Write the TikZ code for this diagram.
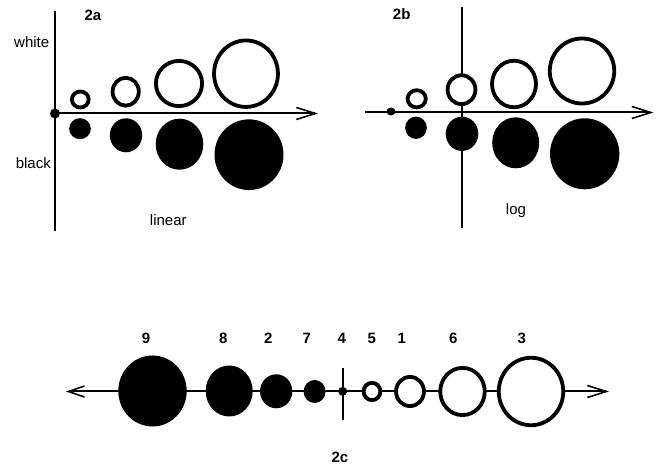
\documentclass[tikz,border=0pt]{standalone}
\usepackage{fontspec}
\setmainfont{Liberation Sans}
\usetikzlibrary{arrows.meta,shapes.geometric}
\tikzset{
  ax/.style={line width=2pt},
  arr/.style={-{Straight Barb[length=19pt,width=12pt,line width=1.6pt]}},
  arrl/.style={{Straight Barb[length=16pt,width=11pt,line width=1.6pt]}-{Straight Barb[length=19pt,width=12pt,line width=1.6pt]}},
  wc/.style={ellipse, draw, line width=3.8pt, fill=white, inner sep=0pt, outer sep=0pt},
  bc/.style={ellipse, fill=black, inner sep=0pt, outer sep=0pt},
  txt/.style={font=\fontsize{15}{18}\selectfont, inner sep=0pt, anchor=base},
  btxt/.style={font=\fontsize{15}{18}\selectfont\bfseries, inner sep=0pt, anchor=base},
}
\begin{document}
\begin{tikzpicture}[x=1pt,y=-1pt]
\useasboundingbox (0,0) rectangle (657,470);
% ---------- 2a ----------
\coordinate (aTop) at (55,11);
\coordinate (aBot) at (55,231);
\coordinate (aEnd) at (318,113.5);
\draw[ax] (aTop) -- (aBot);
\node[bc, minimum width=10pt, minimum height=10pt] (a0) at (55,113.5) {};
\draw[ax,arr] (a0.center) -- (aEnd);
\node[wc, minimum width=16.8pt, minimum height=16pt] (aw1) at (80.3,99.5) {};
\node[wc, minimum width=26.2pt, minimum height=27.9pt] (aw2) at (125.7,91.7) {};
\node[wc, minimum width=46.2pt, minimum height=45.2pt] (aw3) at (179,83.5) {};
\node[wc, minimum width=63.9pt, minimum height=66.5pt] (aw4) at (246,73.7) {};
\node[bc, minimum width=21.7pt, minimum height=21pt] (ab1) at (80,128.7) {};
\node[bc, minimum width=32.3pt, minimum height=34pt] (ab2) at (126,135.3) {};
\node[bc, minimum width=47.6pt, minimum height=51pt] (ab3) at (179.5,144.2) {};
\node[bc, minimum width=69pt, minimum height=70.7pt] (ab4) at (249,154.7) {};
\node[btxt] (la) at (93,20.7) {2a};
\node[txt] (lw) at (31.7,47.3) {white};
\node[txt] (lb) at (33.3,168.3) {black};
\node[txt] (ll) at (168.3,226) {linear};
% ---------- 2b ----------
\coordinate (bTop) at (461.5,7);
\coordinate (bBot) at (461.5,228);
\coordinate (bStart) at (365,112.5);
\coordinate (bEnd) at (653.5,112.5);
\draw[ax] (bTop) -- (bBot);
\draw[ax,arr] (bStart) -- (bEnd);
\node[bc, minimum width=9pt, minimum height=8pt] (b0) at (391,111.5) {};
\node[wc, minimum width=18.2pt, minimum height=17.2pt] (bw1) at (416.7,98.8) {};
\node[wc, minimum width=27.8pt, minimum height=28.9pt] (bw2) at (461.5,89.7) {};
\node[wc, minimum width=44pt, minimum height=46.5pt] (bw3) at (514,84) {};
\node[wc, minimum width=64.5pt, minimum height=65pt] (bw4) at (582,71) {};
\node[bc, minimum width=21.7pt, minimum height=22.3pt] (bb1) at (416,127.8) {};
\node[bc, minimum width=32.6pt, minimum height=34.3pt] (bb2) at (462,133.8) {};
\node[bc, minimum width=47pt, minimum height=51pt] (bb3) at (515.7,142.8) {};
\node[bc, minimum width=69.3pt, minimum height=71pt] (bb4) at (584.7,153.8) {};
\node[btxt] (lbb) at (401.7,20) {2b};
\node[txt] (llog) at (516,215) {log};
% ---------- 2c ----------
\coordinate (cL) at (66,391.5);
\coordinate (cR) at (609,391.5);
\coordinate (cTop) at (342.7,367.7);
\coordinate (cBot) at (342.7,420);
\draw[ax,arrl] (cL) -- (cR);
\draw[ax] (cTop) -- (cBot);
\node[bc, minimum width=68.4pt, minimum height=71pt] (c9) at (152.5,391) {};
\node[bc, minimum width=47pt, minimum height=51pt] (c8) at (229.2,391) {};
\node[bc, minimum width=32.3pt, minimum height=34pt] (c2) at (276.2,391.3) {};
\node[bc, minimum width=22pt, minimum height=23pt] (c7) at (314.6,391.5) {};
\node[bc, minimum width=9pt, minimum height=9pt] (c4) at (342.7,391.3) {};
\node[wc, minimum width=16.8pt, minimum height=17.3pt] (c5) at (372,391.5) {};
\node[wc, minimum width=27.9pt, minimum height=29.2pt] (c1) at (410,391.5) {};
\node[wc, minimum width=44.5pt, minimum height=47.2pt] (c6) at (462.5,391.5) {};
\node[wc, minimum width=64.5pt, minimum height=67.5pt] (c3) at (531,391.5) {};
\node[btxt] (n9) at (146,344) {9};
\node[btxt] (n8) at (223.3,344) {8};
\node[btxt] (n2) at (268.3,344) {2};
\node[btxt] (n7) at (306.7,344) {7};
\node[btxt] (n4) at (341.7,344) {4};
\node[btxt] (n5) at (371.7,344) {5};
\node[btxt] (n1) at (401.7,344) {1};
\node[btxt] (n6) at (453.3,344) {6};
\node[btxt] (n3) at (521.7,344) {3};
\node[btxt] (lc) at (340,463) {2c};
\end{tikzpicture}
\end{document}
